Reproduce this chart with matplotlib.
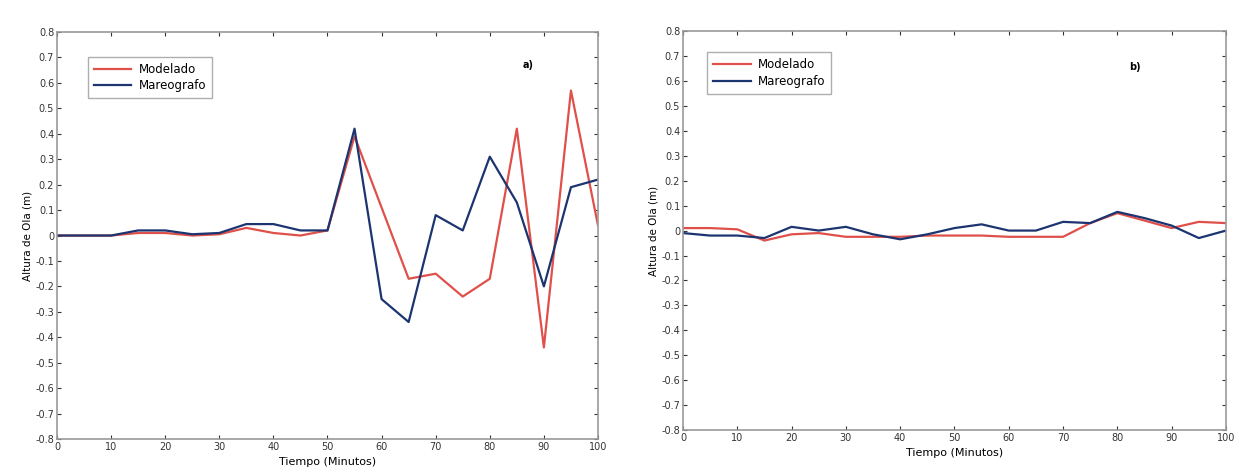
import numpy as np
import matplotlib
matplotlib.use("Agg")
import matplotlib.pyplot as plt

# Tiempo (minutos), cada 5 minutos
tiempo = [0, 5, 10, 15, 20, 25, 30, 35, 40, 45, 50,
          55, 60, 65, 70, 75, 80, 85, 90, 95, 100]

# Panel a)
modelado_a = [0.0, 0.0, 0.0, 0.01, 0.01, 0.0, 0.005, 0.03, 0.01, 0.0, 0.02,
              0.39, 0.11, -0.17, -0.15, -0.24, -0.17, 0.42, -0.44, 0.57, 0.04]
mareografo_a = [0.0, 0.0, 0.0, 0.02, 0.02, 0.005, 0.01, 0.045, 0.045, 0.02, 0.02,
                0.42, -0.25, -0.34, 0.08, 0.02, 0.31, 0.13, -0.2, 0.19, 0.22]

# Panel b)
modelado_b = [0.01, 0.01, 0.005, -0.04, -0.015, -0.01, -0.025, -0.025, -0.025, -0.02, -0.02,
              -0.02, -0.025, -0.025, -0.025, 0.03, 0.07, 0.04, 0.01, 0.035, 0.03]
mareografo_b = [-0.01, -0.02, -0.02, -0.03, 0.015, 0.0, 0.015, -0.015, -0.035, -0.015, 0.01,
                0.025, 0.0, 0.0, 0.035, 0.03, 0.075, 0.05, 0.02, -0.03, 0.0]

yticks = np.round(np.arange(-0.8, 0.81, 0.1), 1)
xticks = [0, 10, 20, 30, 40, 50, 60, 70, 80, 90, 100]

ROJO = '#e0504a'
AZUL = '#1c3470'
GRIS = '#9a9a9a'

fig = plt.figure(figsize=(12.44, 4.76), dpi=100)
ax1 = fig.add_axes([0.0458, 0.0777, 0.4349, 0.855])
ax2 = fig.add_axes([0.549, 0.0966, 0.4365, 0.838])

paneles = [
    (ax1, modelado_a, mareografo_a, 'a)', (0.87, 0.919), (0.057, 0.939)),
    (ax2, modelado_b, mareografo_b, 'b)', (0.832, 0.91), (0.044, 0.947)),
]

for ax, mod, mar, letra, pos_letra, pos_leg in paneles:
    ax.plot(tiempo, mod, color=ROJO, lw=1.6, label='Modelado')
    ax.plot(tiempo, mar, color=AZUL, lw=1.6, label='Mareografo')
    ax.set_xlim(0, 100)
    ax.set_ylim(-0.8, 0.8)
    ax.set_xticks(xticks)
    ax.set_yticks(yticks)
    ax.set_yticklabels(['0' if v == 0 else f'{v:g}' for v in yticks])
    ax.tick_params(direction='in', length=3, width=0.8, colors='#333333',
                   labelsize=7, top=True, right=True, pad=2)
    for s in ax.spines.values():
        s.set_color(GRIS)
        s.set_linewidth(1.2)
    ax.set_xlabel('Tiempo (Minutos)', fontsize=8, labelpad=4)
    ax.set_ylabel('Altura de Ola (m)', fontsize=7.5, labelpad=2)
    ax.text(pos_letra[0], pos_letra[1], letra, transform=ax.transAxes,
            fontsize=7, fontweight='bold', ha='center', va='center')
    leg = ax.legend(loc='upper left', bbox_to_anchor=pos_leg, fontsize=8.5,
                    frameon=True, fancybox=False, borderpad=0.5,
                    borderaxespad=0, handlelength=3.2, handletextpad=0.6,
                    labelspacing=0.3)
    leg.get_frame().set_edgecolor(GRIS)
    leg.get_frame().set_linewidth(1.0)

fig.savefig('out.png', dpi=100)
